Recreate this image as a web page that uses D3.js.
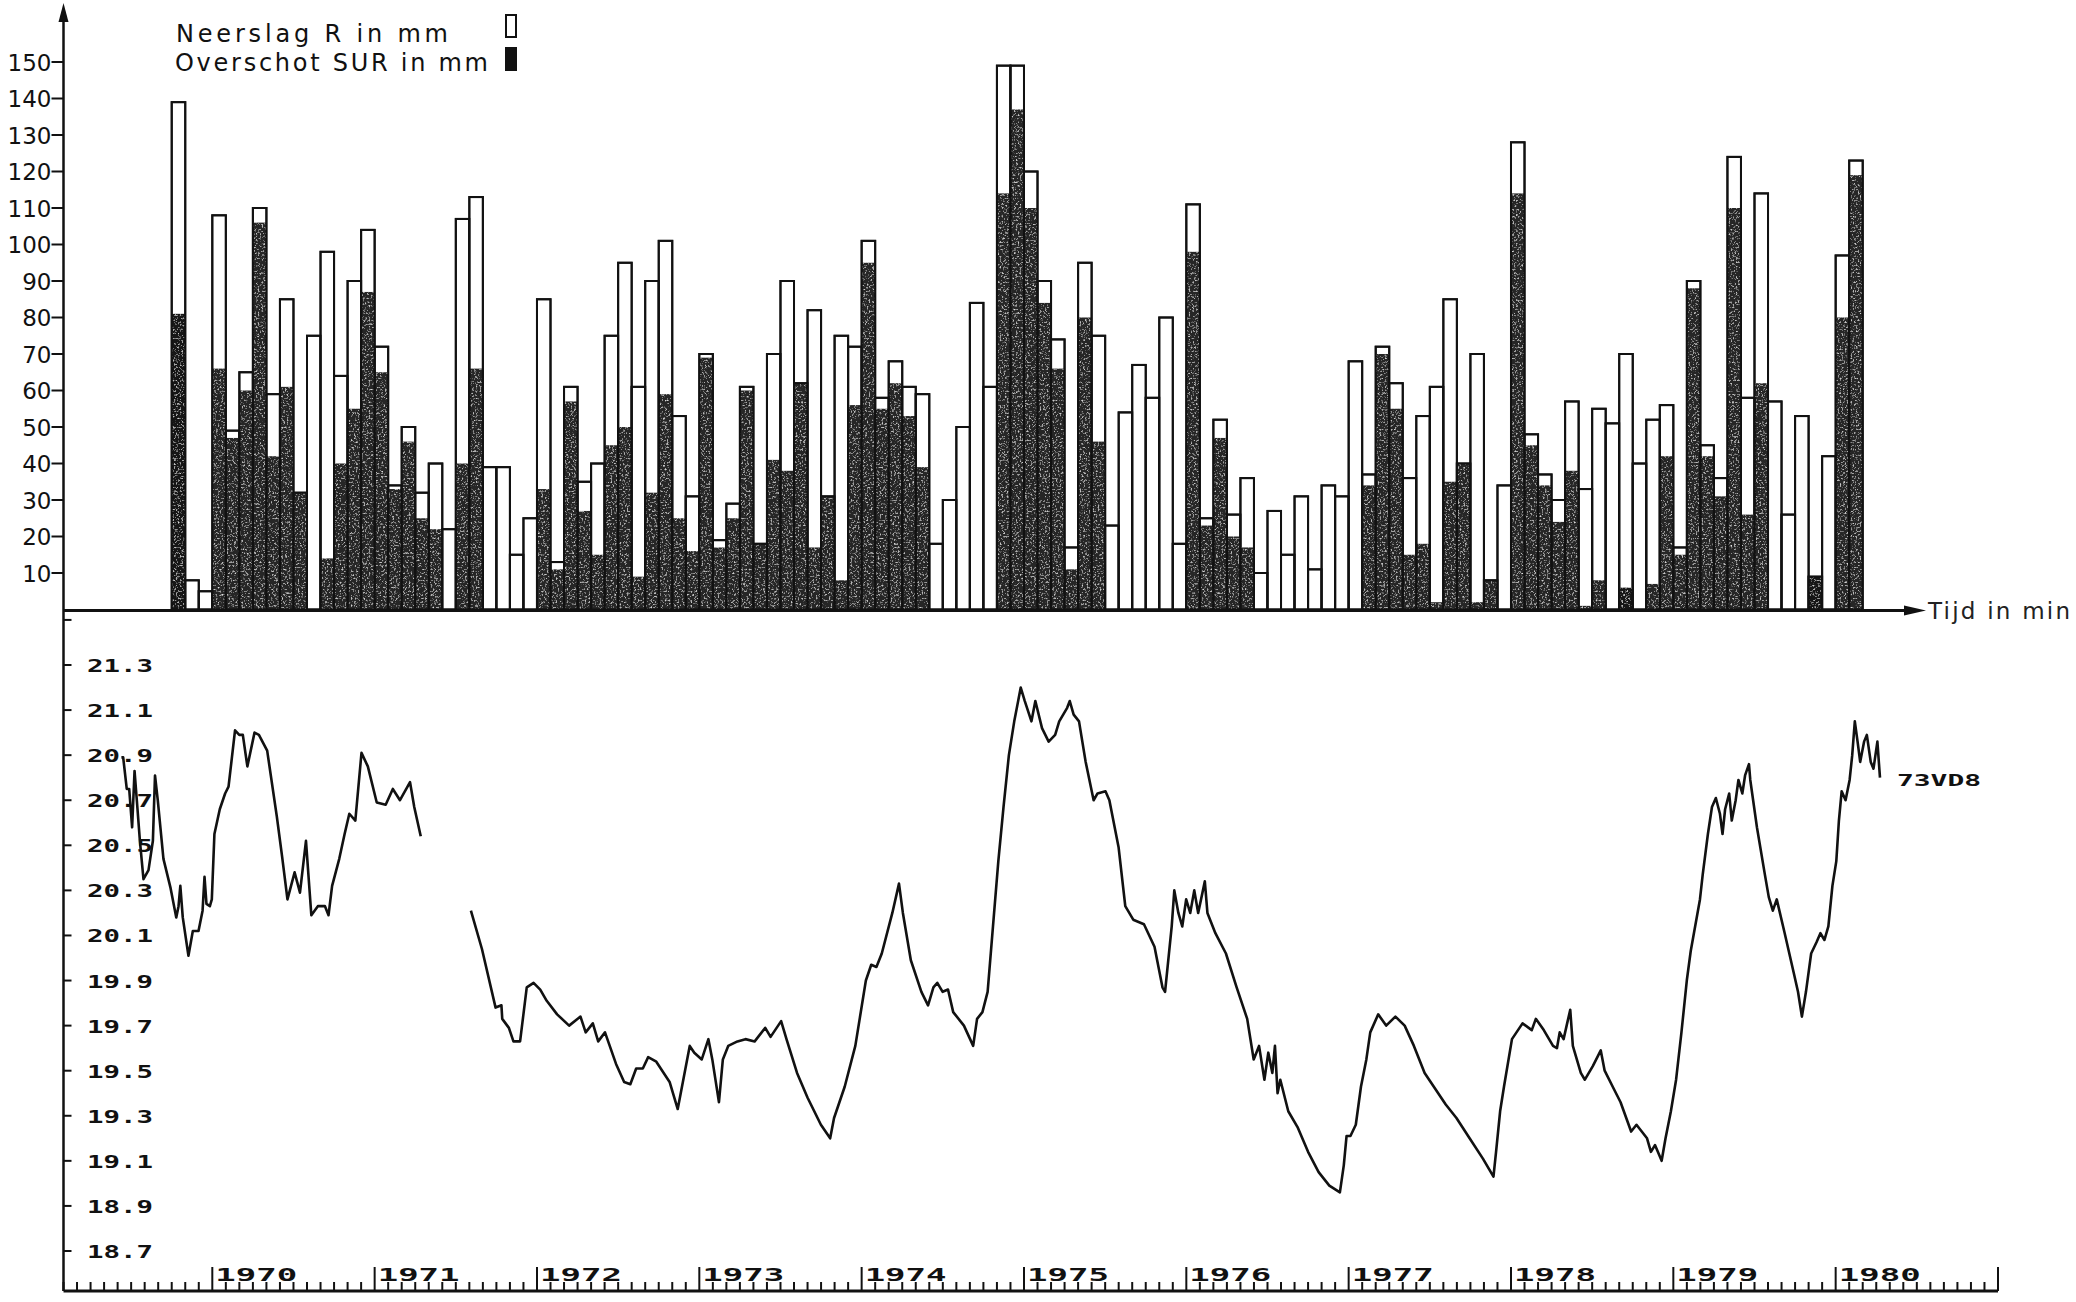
<!DOCTYPE html>
<html>
<head>
<meta charset="utf-8">
<script src="https://cdn.jsdelivr.net/npm/d3@7"></script>
<style>
  html, body { margin: 0; padding: 0; background: #fff; }
  svg { display: block; }
</style>
</head>
<body>
<svg id="chart" width="2076" height="1302"></svg>
<script>
// ---- monthly precipitation (R) and precipitation surplus (SUR), mm, Oct 1969 - Feb 1980
const barStartYear = 1969 + 9 / 12;
const rainfall = [
  139, 8, 5, 108, 49, 65, 110, 59, 85, 32, 75, 98, 64, 90, 104, 72, 34, 50, 32, 40,
  22, 107, 113, 39, 39, 15, 25, 85, 13, 61, 35, 40, 75, 95, 61, 90, 101, 53, 31, 70,
  19, 29, 61, 18, 70, 90, 62, 82, 31, 75, 72, 101, 58, 68, 61, 59, 18, 30, 50, 84,
  61, 149, 149, 120, 90, 74, 17, 95, 75, 23, 54, 67, 58, 80, 18, 111, 25, 52, 26, 36,
  10, 27, 15, 31, 11, 34, 31, 68, 37, 72, 62, 36, 53, 61, 85, 40, 70, 8, 34, 128,
  48, 37, 30, 57, 33, 55, 51, 70, 40, 52, 56, 17, 90, 45, 36, 124, 58, 114, 57, 26,
  53, 9, 42, 97, 123
];
const surplus = [
  81, 0, 0, 66, 47, 60, 106, 42, 61, 32, 0, 14, 40, 55, 87, 65, 33, 46, 25, 22,
  0, 40, 66, 0, 0, 0, 0, 33, 11, 57, 27, 15, 45, 50, 9, 32, 59, 25, 16, 69,
  17, 25, 60, 18, 41, 38, 62, 17, 31, 8, 56, 95, 55, 62, 53, 39, 0, 0, 0, 0,
  0, 114, 137, 110, 84, 66, 11, 80, 46, 0, 0, 0, 0, 0, 0, 98, 23, 47, 20, 17,
  0, 0, 0, 0, 0, 0, 0, 0, 34, 70, 55, 15, 18, 2, 35, 40, 2, 8, 0, 114,
  45, 34, 24, 38, 1, 8, 0, 6, 0, 7, 42, 15, 88, 42, 31, 110, 26, 62, 0, 0,
  0, 9, 0, 80, 119
];
const rainTicks = [10, 20, 30, 40, 50, 60, 70, 80, 90, 100, 110, 120, 130, 140, 150];

// ---- groundwater level, piezometer 73VD8 (m), two recorded stretches
const seg1Time = [
  1969.440, 1969.451, 1969.473, 1969.488, 1969.506, 1969.521, 1969.535, 1969.554, 1969.576, 1969.607,
  1969.634, 1969.647, 1969.664, 1969.699, 1969.743, 1969.778, 1969.792, 1969.803, 1969.818, 1969.853,
  1969.880, 1969.915, 1969.940, 1969.952, 1969.964, 1969.985, 1969.997, 1970.013, 1970.046, 1970.079,
  1970.100, 1970.140, 1970.166, 1970.188, 1970.216, 1970.260, 1970.287, 1970.338, 1970.397, 1970.430,
  1970.463, 1970.507, 1970.540, 1970.577, 1970.610, 1970.650, 1970.694, 1970.716, 1970.738, 1970.782,
  1970.815, 1970.844, 1970.881, 1970.919, 1970.958, 1971.013, 1971.068, 1971.112, 1971.156, 1971.218,
  1971.244, 1971.284
];
const seg1Level = [
  20.89, 20.89, 20.75, 20.75, 20.58, 20.83, 20.70, 20.52, 20.35, 20.39,
  20.52, 20.81, 20.70, 20.44, 20.31, 20.18, 20.23, 20.32, 20.18, 20.01,
  20.12, 20.12, 20.21, 20.36, 20.24, 20.23, 20.26, 20.55, 20.66, 20.73,
  20.76, 21.01, 20.99, 20.99, 20.85, 21.00, 20.99, 20.92, 20.63, 20.45,
  20.26, 20.38, 20.29, 20.52, 20.19, 20.23, 20.23, 20.19, 20.32, 20.44,
  20.55, 20.64, 20.61, 20.91, 20.85, 20.69, 20.68, 20.75, 20.70, 20.78,
  20.67, 20.54
];
const seg2Time = [
  1971.593, 1971.661, 1971.745, 1971.781, 1971.786, 1971.827, 1971.855, 1971.896, 1971.937, 1971.979,
  1972.020, 1972.060, 1972.124, 1972.198, 1972.268, 1972.300, 1972.344, 1972.377, 1972.419, 1972.487,
  1972.537, 1972.575, 1972.611, 1972.652, 1972.685, 1972.735, 1972.817, 1972.867, 1972.941, 1972.969,
  1973.015, 1973.056, 1973.080, 1973.121, 1973.145, 1973.178, 1973.235, 1973.284, 1973.341, 1973.406,
  1973.439, 1973.504, 1973.537, 1973.602, 1973.667, 1973.749, 1973.806, 1973.830, 1973.896, 1973.961,
  1974.026, 1974.059, 1974.091, 1974.124, 1974.189, 1974.230, 1974.254, 1974.303, 1974.368, 1974.409,
  1974.442, 1974.466, 1974.499, 1974.532, 1974.564, 1974.630, 1974.687, 1974.711, 1974.744, 1974.776,
  1974.809, 1974.842, 1974.874, 1974.907, 1974.940, 1974.980, 1975.005, 1975.046, 1975.070, 1975.111,
  1975.152, 1975.192, 1975.217, 1975.266, 1975.282, 1975.306, 1975.339, 1975.380, 1975.429, 1975.453,
  1975.502, 1975.526, 1975.583, 1975.624, 1975.673, 1975.739, 1975.804, 1975.853, 1975.869, 1975.910,
  1975.926, 1975.951, 1975.975, 1975.999, 1976.024, 1976.049, 1976.073, 1976.114, 1976.130, 1976.179,
  1976.244, 1976.310, 1976.375, 1976.415, 1976.448, 1976.481, 1976.505, 1976.530, 1976.546, 1976.562,
  1976.579, 1976.628, 1976.685, 1976.750, 1976.815, 1976.881, 1976.946, 1976.970, 1976.987, 1977.011,
  1977.044, 1977.076, 1977.109, 1977.133, 1977.182, 1977.231, 1977.288, 1977.345, 1977.402, 1977.468,
  1977.533, 1977.598, 1977.664, 1977.745, 1977.827, 1977.892, 1977.908, 1977.933, 1977.957, 1978.006,
  1978.071, 1978.128, 1978.153, 1978.202, 1978.259, 1978.283, 1978.300, 1978.324, 1978.349, 1978.365,
  1978.381, 1978.430, 1978.455, 1978.504, 1978.553, 1978.577, 1978.626, 1978.675, 1978.740, 1978.773,
  1978.838, 1978.862, 1978.887, 1978.928, 1978.952, 1978.985, 1979.017, 1979.050, 1979.083, 1979.107,
  1979.164, 1979.181, 1979.213, 1979.238, 1979.262, 1979.287, 1979.303, 1979.319, 1979.344, 1979.360,
  1979.384, 1979.401, 1979.425, 1979.442, 1979.466, 1979.474, 1979.515, 1979.564, 1979.588, 1979.613,
  1979.637, 1979.686, 1979.743, 1979.768, 1979.792, 1979.817, 1979.849, 1979.882, 1979.906, 1979.931,
  1979.955, 1979.980, 1980.004, 1980.020, 1980.037, 1980.061, 1980.086, 1980.102, 1980.118, 1980.135,
  1980.151, 1980.175, 1980.192, 1980.216, 1980.233, 1980.257, 1980.273
];
const seg2Level = [
  20.21, 20.04, 19.78, 19.79, 19.73, 19.69, 19.63, 19.63, 19.87, 19.89,
  19.86, 19.81, 19.75, 19.70, 19.74, 19.67, 19.71, 19.63, 19.67, 19.53,
  19.45, 19.44, 19.51, 19.51, 19.56, 19.54, 19.45, 19.33, 19.61, 19.58,
  19.55, 19.64, 19.55, 19.36, 19.55, 19.61, 19.63, 19.64, 19.63, 19.69,
  19.65, 19.72, 19.64, 19.49, 19.38, 19.26, 19.20, 19.29, 19.43, 19.61,
  19.90, 19.97, 19.96, 20.02, 20.20, 20.33, 20.20, 19.99, 19.85, 19.79,
  19.87, 19.89, 19.85, 19.86, 19.76, 19.70, 19.61, 19.73, 19.76, 19.85,
  20.14, 20.43, 20.67, 20.90, 21.05, 21.20, 21.14, 21.05, 21.14, 21.02,
  20.96, 20.99, 21.05, 21.11, 21.14, 21.08, 21.05, 20.87, 20.70, 20.73,
  20.74, 20.70, 20.49, 20.23, 20.17, 20.15, 20.05, 19.87, 19.85, 20.14,
  20.30, 20.20, 20.14, 20.26, 20.20, 20.30, 20.20, 20.34, 20.20, 20.11,
  20.02, 19.87, 19.73, 19.55, 19.61, 19.46, 19.58, 19.49, 19.61, 19.40,
  19.46, 19.32, 19.25, 19.14, 19.05, 18.99, 18.96, 19.08, 19.21, 19.21,
  19.26, 19.43, 19.55, 19.67, 19.75, 19.70, 19.74, 19.70, 19.61, 19.49,
  19.42, 19.35, 19.29, 19.20, 19.11, 19.03, 19.14, 19.32, 19.43, 19.64,
  19.71, 19.68, 19.73, 19.68, 19.61, 19.60, 19.67, 19.64, 19.72, 19.77,
  19.61, 19.49, 19.46, 19.52, 19.59, 19.50, 19.43, 19.36, 19.23, 19.26,
  19.20, 19.14, 19.17, 19.10, 19.20, 19.32, 19.46, 19.67, 19.90, 20.03,
  20.26, 20.37, 20.55, 20.67, 20.71, 20.64, 20.55, 20.66, 20.73, 20.61,
  20.70, 20.79, 20.73, 20.81, 20.86, 20.79, 20.58, 20.37, 20.27, 20.21,
  20.26, 20.11, 19.93, 19.85, 19.74, 19.85, 20.02, 20.07, 20.11, 20.08,
  20.14, 20.32, 20.43, 20.61, 20.74, 20.70, 20.79, 20.90, 21.05, 20.96,
  20.87, 20.96, 20.99, 20.87, 20.84, 20.96, 20.80
];
const levelTicks = [21.3, 21.1, 20.9, 20.7, 20.5, 20.3, 20.1, 19.9, 19.7, 19.5, 19.3, 19.1, 18.9, 18.7];
const levelTickMarks = [21.5, 21.3, 21.1, 20.9, 20.7, 20.5, 20.3, 20.1, 19.9, 19.7, 19.5, 19.3, 19.1, 18.9, 18.7];
const yearTicks = [1970, 1971, 1972, 1973, 1974, 1975, 1976, 1977, 1978, 1979, 1980];
const timeStart = 1969 + 1 / 12;
const timeEnd = 1981;
const wellName = "73VD8";

const svg = d3.select("#chart");
const ink = "#111";
const textFont = "'DejaVu Sans', 'Liberation Sans', sans-serif";
const dotFont = "'DejaVu Sans Mono', 'Liberation Mono', monospace";

// shared time axis (decimal years)
const x = d3.scaleLinear().domain([timeStart, timeEnd]).range([63.5, 1998]);
const yR = d3.scaleLinear().domain([0, 150]).range([609.5, 62]);
const yL = d3.scaleLinear().domain([18.7, 21.3]).range([1251, 665]);
const axisX = x(timeStart);

// grain filter for the filled surplus columns
const defs = svg.append("defs");
const grain = defs.append("filter").attr("id", "grain")
  .attr("x", 0).attr("y", 0).attr("width", 1).attr("height", 1);
grain.append("feTurbulence").attr("type", "fractalNoise")
  .attr("baseFrequency", 0.55).attr("numOctaves", 2).attr("seed", 7).attr("result", "noise");
grain.append("feColorMatrix").attr("in", "noise").attr("type", "matrix")
  .attr("values", "0 0 0 0 0.85  0 0 0 0 0.85  0 0 0 0 0.85  0 0 0 2.6 -1.45")
  .attr("result", "speck");
grain.append("feComposite").attr("in", "speck").attr("in2", "SourceGraphic")
  .attr("operator", "in").attr("result", "speckIn");
const gm = grain.append("feMerge");
gm.append("feMergeNode").attr("in", "SourceGraphic");
gm.append("feMergeNode").attr("in", "speckIn");

// ---------- upper panel: bars ----------
const bars = rainfall.map((r, i) => ({
  t0: barStartYear + i / 12,
  t1: barStartYear + (i + 1) / 12,
  r, s: surplus[i],
  cluster: surplus[i] > 0 && ((surplus[i - 1] || 0) > 0 || (surplus[i + 1] || 0) > 0)
}));

const gBars = svg.append("g");
gBars.selectAll("rect.rain").data(bars).join("rect")
  .attr("class", "rain")
  .attr("x", d => x(d.t0)).attr("width", d => x(d.t1) - x(d.t0))
  .attr("y", d => yR(d.r)).attr("height", d => yR(0) - yR(d.r))
  .attr("fill", "#fff").attr("stroke", ink).attr("stroke-width", 2);

const gSur = svg.append("g").attr("filter", "url(#grain)");
gSur.selectAll("rect.sur").data(bars.filter(d => d.s > 0)).join("rect")
  .attr("class", "sur")
  .attr("x", d => x(d.t0)).attr("width", d => x(d.t1) - x(d.t0))
  .attr("y", d => yR(d.s)).attr("height", d => yR(0) - yR(d.s))
  .attr("fill", d => d.cluster ? "#262626" : "#151515");

// outline on top of fills
svg.append("g").selectAll("rect").data(bars).join("rect")
  .attr("x", d => x(d.t0)).attr("width", d => x(d.t1) - x(d.t0))
  .attr("y", d => yR(d.r)).attr("height", d => yR(0) - yR(d.r))
  .attr("fill", "none").attr("stroke", ink).attr("stroke-width", 2);

// upper y axis with arrow
const gAxR = svg.append("g");
gAxR.append("line").attr("x1", axisX).attr("x2", axisX).attr("y1", 14).attr("y2", 1291)
  .attr("stroke", ink).attr("stroke-width", 2.5);
gAxR.append("path")
  .attr("d", `M${axisX},3 L${axisX - 5},22 L${axisX + 5},22 Z`).attr("fill", ink);
gAxR.selectAll("line.tk").data(rainTicks).join("line").attr("class", "tk")
  .attr("x1", axisX - 12).attr("x2", axisX).attr("y1", d => yR(d)).attr("y2", d => yR(d))
  .attr("stroke", ink).attr("stroke-width", 2);
gAxR.selectAll("text").data(rainTicks).join("text")
  .attr("x", axisX - 12).attr("y", d => yR(d) + 8.5)
  .attr("text-anchor", "end").attr("font-family", textFont).attr("font-size", 23)
  .attr("fill", ink).text(d => d);

// baseline with arrow
svg.append("line").attr("x1", axisX).attr("x2", 1910).attr("y1", yR(0) + 1).attr("y2", yR(0) + 1)
  .attr("stroke", ink).attr("stroke-width", 3);
svg.append("path")
  .attr("d", `M1926,${yR(0) + 1} L1904,${yR(0) - 4} L1904,${yR(0) + 6} Z`).attr("fill", ink);
svg.append("text").attr("x", 1928).attr("y", yR(0) + 9)
  .attr("font-family", textFont).attr("font-size", 23).attr("fill", "#222")
  .attr("textLength", 142).attr("lengthAdjust", "spacing")
  .text("Tijd in min");

// legend
const legend = svg.append("g");
legend.append("text").attr("x", 176).attr("y", 42)
  .attr("font-family", textFont).attr("font-size", 24).attr("fill", ink)
  .attr("textLength", 272).attr("lengthAdjust", "spacing")
  .text("Neerslag R  in  mm");
legend.append("text").attr("x", 175).attr("y", 71)
  .attr("font-family", textFont).attr("font-size", 24).attr("fill", ink)
  .attr("textLength", 313).attr("lengthAdjust", "spacing")
  .text("Overschot SUR in mm");
legend.append("rect").attr("x", 506).attr("y", 15).attr("width", 10).attr("height", 22)
  .attr("fill", "#fff").attr("stroke", ink).attr("stroke-width", 2);
legend.append("rect").attr("x", 505).attr("y", 47).attr("width", 12).attr("height", 24)
  .attr("fill", ink);

// ---------- lower panel: groundwater level ----------
const gAxL = svg.append("g");
gAxL.selectAll("line").data(levelTickMarks).join("line")
  .attr("x1", axisX).attr("x2", axisX + 8).attr("y1", d => yL(d)).attr("y2", d => yL(d))
  .attr("stroke", ink).attr("stroke-width", 2);
gAxL.selectAll("text").data(levelTicks).join("text")
  .attr("x", 87).attr("y", d => yL(d) + 7)
  .attr("font-family", dotFont).attr("font-weight", "bold").attr("font-size", 18)
  .attr("textLength", 66).attr("lengthAdjust", "spacingAndGlyphs")
  .attr("fill", ink).text(d => d.toFixed(1));

// time axis at the bottom
const axisY = 1291;
const months = d3.range(0, Math.round((timeEnd - timeStart) * 12) + 1).map(k => timeStart + k / 12);
const gT = svg.append("g");
gT.append("line").attr("x1", axisX).attr("x2", x(timeEnd)).attr("y1", axisY).attr("y2", axisY)
  .attr("stroke", ink).attr("stroke-width", 3);
gT.selectAll("line.m").data(months).join("line").attr("class", "m")
  .attr("x1", d => x(d)).attr("x2", d => x(d))
  .attr("y1", axisY).attr("y2", d => {
    const isYear = Math.abs(d - Math.round(d)) < 1e-6 || Math.abs(d - timeEnd) < 1e-6;
    return isYear ? axisY - 24 : axisY - 9;
  })
  .attr("stroke", ink).attr("stroke-width", 2);
gT.selectAll("text").data(yearTicks).join("text")
  .attr("x", d => x(d) + 3).attr("y", axisY - 10)
  .attr("font-family", dotFont).attr("font-weight", "bold").attr("font-size", 17)
  .attr("textLength", 82).attr("lengthAdjust", "spacingAndGlyphs")
  .attr("fill", ink).text(d => d);

// level lines
const line = d3.line().x(d => x(d[0])).y(d => yL(d[1])).curve(d3.curveLinear);
const gLine = svg.append("g").attr("fill", "none").attr("stroke", ink)
  .attr("stroke-width", 2.6).attr("stroke-linejoin", "round");
gLine.append("path").attr("d", line(seg1Time.map((t, i) => [t, seg1Level[i]])));
gLine.append("path").attr("d", line(seg2Time.map((t, i) => [t, seg2Level[i]])));

svg.append("text")
  .attr("x", 1897).attr("y", yL(seg2Level[seg2Level.length - 1]) + 8)
  .attr("font-family", dotFont).attr("font-weight", "bold").attr("font-size", 15)
  .attr("textLength", 84).attr("lengthAdjust", "spacingAndGlyphs")
  .attr("fill", ink).text(wellName);
</script>
</body>
</html>
